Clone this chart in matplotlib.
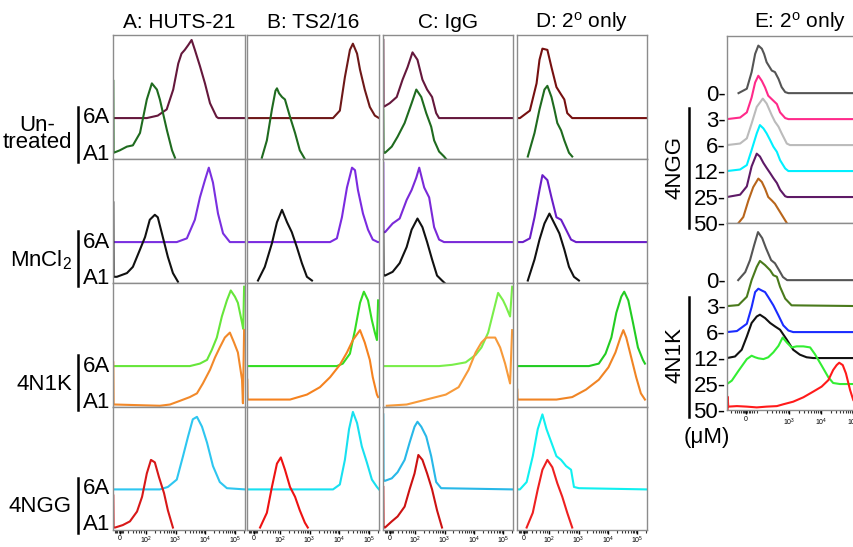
import numpy as np
import matplotlib.pyplot as plt
from matplotlib.lines import Line2D

plt.rcParams['font.family'] = ['Liberation Sans', 'DejaVu Sans']
plt.rcParams['mathtext.fontset'] = 'custom'
plt.rcParams['mathtext.rm'] = 'Liberation Sans'
plt.rcParams['mathtext.it'] = 'Liberation Sans:italic'

# ---------------- data ----------------
# x: fluorescence position in decades (biexponential display), h: height as fraction of panel
col_titles = ["A: HUTS-21", "B: TS2/16", "C: IgG", "D: 2$^{\\mathrm{o}}$ only"]
row_names = ["Un-\ntreated", "MnCl$_2$", "4N1K", "4NGG"]

# row 1: untreated  (A1 = green, 6A = maroon)
untr_A_a1 = ([0.90, 0.91, 1.12, 1.36, 1.56, 1.80, 2.03, 2.20, 2.37, 2.47, 2.71, 2.88, 2.98],
             [0.63, 0.05, 0.07, 0.10, 0.11, 0.21, 0.48, 0.61, 0.56, 0.48, 0.23, 0.07, 0.01])
untr_A_6a = ([0.89, 2.03, 2.40, 2.70, 2.92, 3.09, 3.20, 3.31, 3.43, 3.54, 3.65, 3.82, 3.99, 4.16, 4.38, 4.44, 5.34],
             [0, 0, 0.02, 0.07, 0.23, 0.44, 0.52, 0.55, 0.59, 0.63, 0.55, 0.42, 0.28, 0.12, 0.01, 0, 0])
untr_B_a1 = ([1.39, 1.56, 1.73, 1.85, 1.90, 1.97, 2.07, 2.17, 2.34, 2.51, 2.67, 2.84],
             [0.01, 0.15, 0.40, 0.55, 0.57, 0.53, 0.50, 0.48, 0.34, 0.21, 0.07, 0.0])
untr_B_6a = ([0.89, 3.79, 4.02, 4.19, 4.36, 4.46, 4.60, 4.70, 4.86, 5.03, 5.20, 5.34],
             [0, 0, 0.06, 0.33, 0.55, 0.60, 0.52, 0.39, 0.23, 0.09, 0.02, 0])
untr_C_a1 = ([0.90, 0.91, 0.96, 1.19, 1.39, 1.63, 1.87, 2.03, 2.20, 2.37, 2.54, 2.64, 2.81, 2.98, 3.05],
             [0.40, 0.05, 0.05, 0.10, 0.18, 0.29, 0.45, 0.56, 0.50, 0.37, 0.26, 0.15, 0.06, 0.02, 0])
untr_C_6a = ([0.90, 0.91, 1.12, 1.36, 1.56, 1.73, 1.90, 2.07, 2.24, 2.40, 2.57, 2.71, 2.81, 5.34],
             [0.63, 0.09, 0.12, 0.17, 0.31, 0.41, 0.53, 0.47, 0.31, 0.23, 0.17, 0.04, 0, 0])
untr_D_a1 = ([1.26, 1.49, 1.66, 1.83, 1.93, 2.07, 2.17, 2.27, 2.40, 2.51, 2.67, 2.78],
             [0.02, 0.21, 0.40, 0.56, 0.59, 0.50, 0.40, 0.29, 0.23, 0.15, 0.05, 0.02])
untr_D_6a = ([0.89, 0.99, 1.33, 1.56, 1.66, 1.76, 1.93, 2.07, 2.24, 2.40, 2.51, 2.61, 2.78, 5.34],
             [0, 0, 0.06, 0.28, 0.47, 0.56, 0.55, 0.41, 0.25, 0.19, 0.15, 0.04, 0, 0])

# row 2: MnCl2  (A1 = black, 6A = purple)
mn_A_a1 = ([0.90, 0.91, 1.02, 1.36, 1.56, 1.80, 1.97, 2.13, 2.30, 2.40, 2.57, 2.74, 2.91, 3.08],
           [0.65, 0.05, 0.05, 0.08, 0.13, 0.27, 0.37, 0.51, 0.55, 0.53, 0.37, 0.21, 0.08, 0.01])
mn_A_6a = ([0.89, 3.04, 3.38, 3.65, 3.82, 3.99, 4.12, 4.26, 4.43, 4.60, 4.83, 5.34],
           [0, 0, 0.03, 0.18, 0.36, 0.50, 0.60, 0.48, 0.23, 0.07, 0, 0])
mn_B_a1 = ([1.26, 1.49, 1.73, 1.90, 2.07, 2.24, 2.40, 2.57, 2.74, 2.91, 3.08],
           [0.02, 0.13, 0.32, 0.49, 0.59, 0.49, 0.41, 0.29, 0.16, 0.05, 0.02])
mn_B_6a = ([0.89, 3.69, 3.92, 4.09, 4.26, 4.43, 4.53, 4.63, 4.80, 4.97, 5.13, 5.30, 5.34],
           [0, 0, 0.03, 0.20, 0.44, 0.60, 0.58, 0.42, 0.23, 0.10, 0.02, 0, 0])
mn_C_a1 = ([0.90, 0.91, 0.96, 1.22, 1.46, 1.70, 1.87, 2.07, 2.24, 2.40, 2.57, 2.74, 2.91, 3.00],
           [0.41, 0.06, 0.06, 0.09, 0.16, 0.29, 0.43, 0.52, 0.45, 0.33, 0.19, 0.06, 0.02, 0])
mn_C_6a = ([0.90, 0.91, 0.96, 1.22, 1.46, 1.70, 1.87, 2.03, 2.13, 2.30, 2.47, 2.64, 2.81, 2.98, 5.34],
           [0.64, 0.08, 0.08, 0.15, 0.19, 0.34, 0.42, 0.52, 0.60, 0.44, 0.36, 0.12, 0.02, 0, 0])
mn_D_a1 = ([1.26, 1.49, 1.66, 1.83, 2.00, 2.17, 2.34, 2.51, 2.67, 2.84, 3.01],
           [0.02, 0.19, 0.35, 0.48, 0.56, 0.48, 0.40, 0.27, 0.13, 0.05, 0.02])
mn_D_6a = ([0.89, 1.09, 1.33, 1.49, 1.66, 1.76, 1.93, 2.07, 2.24, 2.40, 2.57, 2.74, 2.91, 5.34],
           [0, 0, 0.03, 0.20, 0.42, 0.54, 0.50, 0.36, 0.20, 0.18, 0.10, 0.02, 0, 0])

# row 3: 4N1K  (A1 = orange, 6A = green)
n1k_A_a1 = ([0.90, 0.91, 0.96, 2.47, 2.81, 3.15, 3.48, 3.72, 3.92, 4.16, 4.33, 4.49, 4.66, 4.83, 4.97, 5.10, 5.24, 5.27, 5.31],
            [0.36, 0.02, 0.02, 0.01, 0.02, 0.05, 0.08, 0.11, 0.19, 0.30, 0.40, 0.48, 0.56, 0.60, 0.52, 0.44, 0.22, 0.03, 0.62])
n1k_A_6a = ([0.89, 3.48, 3.82, 4.06, 4.22, 4.39, 4.56, 4.73, 4.86, 5.00, 5.10, 5.24, 5.28, 5.31],
            [0, 0, 0.02, 0.05, 0.13, 0.23, 0.40, 0.53, 0.61, 0.56, 0.51, 0.35, 0.30, 0.64])
n1k_B_a1 = ([0.90, 0.91, 0.99, 2.34, 2.91, 3.35, 3.69, 4.02, 4.26, 4.46, 4.70, 4.86, 5.03, 5.13, 5.27, 5.31],
            [0.22, 0.06, 0.06, 0.06, 0.10, 0.16, 0.24, 0.34, 0.44, 0.54, 0.62, 0.52, 0.38, 0.24, 0.10, 0.08])
n1k_B_6a = ([0.89, 3.92, 4.12, 4.36, 4.53, 4.70, 4.83, 4.97, 5.10, 5.20, 5.27, 5.31],
            [0, 0, 0.02, 0.10, 0.29, 0.51, 0.60, 0.53, 0.37, 0.27, 0.21, 0.53])
n1k_C_a1 = ([1.02, 1.70, 2.37, 3.04, 3.48, 3.82, 4.06, 4.26, 4.43, 4.73, 4.90, 5.07, 5.24, 5.31],
            [0.01, 0.02, 0.06, 0.10, 0.16, 0.30, 0.44, 0.52, 0.56, 0.56, 0.48, 0.35, 0.19, 0.62])
n1k_C_6a = ([0.89, 2.81, 3.25, 3.72, 4.06, 4.26, 4.49, 4.66, 4.83, 5.00, 5.10, 5.24, 5.31],
            [0, 0, 0.01, 0.03, 0.09, 0.15, 0.27, 0.43, 0.59, 0.53, 0.48, 0.40, 0.64])
n1k_D_a1 = ([0.90, 0.91, 0.99, 2.24, 2.78, 3.25, 3.69, 4.02, 4.26, 4.43, 4.53, 4.63, 4.80, 4.97, 5.13, 5.27],
            [0.14, 0.06, 0.06, 0.06, 0.08, 0.14, 0.22, 0.32, 0.44, 0.56, 0.62, 0.56, 0.40, 0.24, 0.11, 0.06])
n1k_D_6a = ([0.89, 3.35, 3.69, 3.92, 4.12, 4.29, 4.46, 4.56, 4.70, 4.86, 5.03, 5.20, 5.27],
            [0, 0, 0.02, 0.10, 0.23, 0.43, 0.56, 0.60, 0.53, 0.35, 0.15, 0.05, 0.02])

# row 4: 4NGG  (A1 = red, 6A = cyan)
ngg_A_a1 = ([0.90, 0.91, 0.96, 1.22, 1.46, 1.70, 1.87, 2.03, 2.17, 2.30, 2.44, 2.61, 2.74, 2.91],
            [0.28, 0.02, 0.02, 0.04, 0.07, 0.15, 0.27, 0.46, 0.57, 0.55, 0.43, 0.30, 0.16, 0.02])
ngg_A_6a = ([0.89, 2.47, 2.74, 3.04, 3.25, 3.42, 3.58, 3.72, 3.89, 4.06, 4.26, 4.49, 4.73, 5.34],
            [0, 0, 0.02, 0.08, 0.27, 0.43, 0.57, 0.59, 0.51, 0.38, 0.19, 0.06, 0.01, 0])
ngg_B_a1 = ([1.33, 1.56, 1.73, 1.90, 2.03, 2.17, 2.34, 2.51, 2.67, 2.84, 2.94],
            [0.02, 0.14, 0.35, 0.54, 0.59, 0.49, 0.35, 0.27, 0.16, 0.06, 0.02])
ngg_B_6a = ([0.89, 3.79, 4.02, 4.19, 4.33, 4.46, 4.60, 4.76, 4.93, 5.10, 5.27, 5.34],
            [0, 0, 0.04, 0.24, 0.49, 0.63, 0.54, 0.35, 0.22, 0.08, 0.02, 0])
ngg_C_a1 = ([0.90, 0.91, 0.96, 1.19, 1.39, 1.63, 1.80, 1.97, 2.10, 2.24, 2.40, 2.57, 2.74, 2.91],
            [0.35, 0.02, 0.02, 0.07, 0.11, 0.19, 0.33, 0.46, 0.61, 0.57, 0.46, 0.33, 0.16, 0.02])
ngg_C_6a = ([0.90, 0.91, 0.96, 1.19, 1.39, 1.63, 1.80, 1.97, 2.07, 2.20, 2.37, 2.54, 2.71, 2.88, 5.34],
            [0.61, 0.07, 0.07, 0.09, 0.14, 0.24, 0.38, 0.51, 0.55, 0.51, 0.43, 0.27, 0.06, 0.01, 0])
ngg_D_a1 = ([1.22, 1.43, 1.60, 1.76, 1.93, 2.10, 2.27, 2.44, 2.61, 2.78],
            [0.02, 0.14, 0.33, 0.49, 0.57, 0.51, 0.38, 0.27, 0.14, 0.02])
ngg_D_6a = ([0.89, 0.99, 1.22, 1.43, 1.60, 1.76, 1.90, 2.07, 2.24, 2.40, 2.57, 2.74, 2.84, 3.01, 5.34],
            [0, 0, 0.06, 0.27, 0.49, 0.61, 0.49, 0.38, 0.27, 0.24, 0.19, 0.16, 0.02, 0.01, 0])

grid_a1 = [[untr_A_a1, untr_B_a1, untr_C_a1, untr_D_a1],
           [mn_A_a1, mn_B_a1, mn_C_a1, mn_D_a1],
           [n1k_A_a1, n1k_B_a1, n1k_C_a1, n1k_D_a1],
           [ngg_A_a1, ngg_B_a1, ngg_C_a1, ngg_D_a1]]
grid_6a = [[untr_A_6a, untr_B_6a, untr_C_6a, untr_D_6a],
           [mn_A_6a, mn_B_6a, mn_C_6a, mn_D_6a],
           [n1k_A_6a, n1k_B_6a, n1k_C_6a, n1k_D_6a],
           [ngg_A_6a, ngg_B_6a, ngg_C_6a, ngg_D_6a]]

# panel E: 2o only, titration (h in units of one offset step)
e_doses = ["0-", "3-", "6-", "12-", "25-", "50-"]
ngg_0 = ([1.42, 1.68, 1.83, 1.94, 2.04, 2.15, 2.22, 2.30, 2.46, 2.56, 2.67, 2.77, 2.88, 2.98, 5.3],
         [0, 0.17, 0.81, 1.51, 1.83, 1.71, 1.51, 1.19, 0.87, 0.81, 0.55, 0.23, 0.04, 0, 0])
ngg_3 = ([1.06, 1.47, 1.68, 1.83, 1.94, 2.04, 2.15, 2.25, 2.35, 2.51, 2.62, 2.72, 2.88, 2.98, 5.3],
         [0, 0.06, 0.26, 0.83, 1.41, 1.67, 1.47, 1.22, 0.90, 0.71, 0.58, 0.26, 0.04, 0, 0])
ngg_6 = ([1.06, 1.47, 1.68, 1.83, 1.99, 2.18, 2.30, 2.46, 2.56, 2.67, 2.77, 2.93, 3.03, 5.3],
         [0, 0.06, 0.26, 0.83, 1.47, 1.79, 1.60, 1.15, 0.90, 0.71, 0.45, 0.06, 0, 0])
ngg_12 = ([1.06, 1.47, 1.68, 1.83, 1.99, 2.09, 2.20, 2.30, 2.41, 2.51, 2.62, 2.72, 2.88, 2.98, 5.3],
          [0, 0.06, 0.23, 0.81, 1.45, 1.77, 1.64, 1.45, 1.19, 0.94, 0.74, 0.42, 0.10, 0, 0])
ngg_25 = ([1.06, 1.47, 1.68, 1.83, 1.99, 2.09, 2.20, 2.30, 2.41, 2.51, 2.62, 2.72, 2.88, 2.95, 5.3],
          [0, 0.09, 0.41, 1.18, 1.67, 1.56, 1.31, 1.12, 0.92, 0.73, 0.54, 0.28, 0.03, 0, 0])
ngg_50 = ([1.42, 1.57, 1.73, 1.88, 2.04, 2.15, 2.25, 2.35, 2.46, 2.56, 2.72, 2.88, 2.93],
          [0, 0.23, 0.87, 1.38, 1.71, 1.58, 1.32, 1.00, 0.87, 0.74, 0.42, 0.10, 0])
n1k_0 = ([1.41, 1.63, 1.78, 1.91, 2.03, 2.16, 2.28, 2.44, 2.56, 2.69, 2.81, 2.94, 5.3],
         [0.0, 0.31, 0.77, 1.35, 1.85, 1.62, 1.23, 0.77, 0.65, 0.38, 0.12, 0, 0])
n1k_3 = ([1.06, 1.42, 1.68, 1.83, 1.99, 2.09, 2.25, 2.41, 2.51, 2.62, 2.72, 2.88, 3.08, 5.3],
         [0, 0.04, 0.36, 1.00, 1.51, 1.74, 1.58, 1.38, 1.19, 1.13, 0.74, 0.29, 0.03, 0])
n1k_6 = ([1.06, 1.37, 1.68, 1.83, 1.94, 2.04, 2.15, 2.25, 2.35, 2.51, 2.67, 2.82, 2.98, 3.13, 5.3],
         [0, 0.04, 0.32, 0.96, 1.54, 1.67, 1.60, 1.54, 1.35, 1.03, 0.64, 0.26, 0.06, 0, 0])
n1k_12 = ([1.06, 1.31, 1.52, 1.68, 1.83, 1.99, 2.09, 2.25, 2.41, 2.56, 2.72, 2.93, 3.13, 3.34, 3.55, 3.76, 5.3],
          [0, 0.06, 0.32, 0.83, 1.35, 1.60, 1.67, 1.54, 1.35, 1.22, 1.09, 0.71, 0.32, 0.13, 0.03, 0, 0])
n1k_25 = ([1.06, 1.21, 1.42, 1.68, 1.83, 1.94, 2.04, 2.20, 2.35, 2.51, 2.67, 2.80, 2.93, 3.08, 3.24, 3.45,
           3.66, 3.81, 4.02, 4.23, 4.38, 4.59, 5.3],
          [0, 0.13, 0.51, 0.96, 1.09, 1.03, 0.99, 0.96, 1.03, 1.22, 1.47, 1.79, 1.60, 1.41, 1.45, 1.45,
           1.41, 1.15, 0.71, 0.26, 0.04, 0, 0])
n1k_50 = ([1.08, 1.08, 1.10, 1.37, 1.68, 1.99, 2.30, 2.62, 2.82, 3.13, 3.45, 3.76, 4.02, 4.23, 4.38, 4.49,
           4.57, 4.68, 4.78, 4.91, 5.01, 5.2],
          [0, 0.51, 0.13, 0.15, 0.13, 0.10, 0.13, 0.15, 0.22, 0.32, 0.49, 0.71, 0.90, 1.15, 1.54, 1.73,
           1.82, 1.73, 1.41, 0.77, 0.38, 0.05])

ngg_curves = [ngg_0, ngg_3, ngg_6, ngg_12, ngg_25, ngg_50]
n1k_curves = [n1k_0, n1k_3, n1k_6, n1k_12, n1k_25, n1k_50]

# ---------------- styles ----------------
a1_colors = [["#1f6b1f"] * 4,
             ["#111111"] * 4,
             ["#f2892a", "#f5821f", "#f79a3a", "#f08424"],
             ["#d81818", "#ee1212", "#cc1212", "#ee2020"]]
sixa_colors = [["#65183c", "#6e1818", "#65183c", "#761010"],
               ["#7a30e0", "#7b2be0", "#7a2ad8", "#6a1ec8"],
               ["#66e63a", "#33dd22", "#7aee4a", "#22cc22"],
               ["#2ec6f0", "#18e0f0", "#28b8e8", "#10f0f0"]]
ngg_colors = ["#555555", "#ff2a8a", "#bbbbbb", "#00f0ff", "#5e1a66", "#b8651b"]
n1k_colors = ["#555555", "#4a7a1c", "#1a2cff", "#111111", "#33ee33", "#ff1a1a"]

W, H = 854, 547
fig = plt.figure(figsize=(W / 100, H / 100), dpi=100)


def px_axes(x0, y0, x1, y1):
    return fig.add_axes([x0 / W, 1 - y1 / H, (x1 - x0) / W, (y1 - y0) / H])


def ftext(x, y, s, **kw):
    fig.text(x / W, 1 - y / H, s, **kw)


def vbar(x, y0, y1):
    fig.add_artist(Line2D([x / W, x / W], [1 - y0 / H, 1 - y1 / H], color="black", lw=1.8))


spine_col = "#8c8c8c"
col_x = [(113, 245), (247, 379), (383, 513), (517, 647)]
row_y = [(35, 159), (159, 283), (283, 407), (407, 530)]
off6a = 0.33
lw = 1.5

main_major = [1.12, 2, 3, 4, 5]
main_labels = ["0", "$10^{2}$", "$10^{3}$", "$10^{4}$", "$10^{5}$"]
main_minor = [0.96, 1.0, 1.04, 1.08, 1.16, 1.20, 1.24, 1.40, 1.55, 1.67, 1.77, 1.85, 1.92] + \
             [d + np.log10(k) for d in (2, 3, 4) for k in range(2, 10)] + [5.3]

for r in range(4):
    for c in range(4):
        x0, x1 = col_x[c]
        y0, y1 = row_y[r]
        ax = px_axes(x0, y0, x1, y1)
        xa, ya = grid_a1[r][c]
        xb, yb = grid_6a[r][c]
        ax.plot(xb, np.array(yb) + off6a, color=sixa_colors[r][c], lw=lw, solid_joinstyle="round")
        ax.plot(xa, ya, color=a1_colors[r][c], lw=lw, solid_joinstyle="round")
        ax.set_xlim(0.89, 5.34)
        ax.set_ylim(0, 1)
        ax.set_yticks([])
        for s in ax.spines.values():
            s.set_color(spine_col)
            s.set_linewidth(1.0)
        if r == 3:
            ax.set_xticks(main_major)
            ax.set_xticklabels(main_labels, fontsize=5)
            ax.set_xticks(main_minor, minor=True)
            ax.tick_params(axis="x", which="major", length=3, width=1.0, pad=0.5, color="black")
            ax.tick_params(axis="x", which="minor", length=2, width=0.8, color="#333333")
        else:
            ax.set_xticks([])
        if r == 0:
            ax.set_title(col_titles[c], fontsize=15, pad=5)

# row labels on the left
for r in range(4):
    yb = row_y[r][1]
    vbar(78, yb - 52, yb + 3)
    ftext(83, yb - 41, "6A", fontsize=16, va="center", ha="left")
    ftext(83, yb - 5, "A1", fontsize=16, va="center", ha="left")
    if r == 0:
        ftext(72, yb - 25, row_names[r], fontsize=16, va="center", ha="right",
              multialignment="center", linespacing=0.75)
    else:
        ftext(72, yb - 23, row_names[r], fontsize=16, va="center", ha="right")

# ---------------- panel E ----------------
e_major = [1.66, 3, 4, 5]
e_labels = ["0", "$10^{3}$", "$10^{4}$", "$10^{5}$"]
e_minor = [1.20, 1.30, 1.38, 1.45, 1.50, 1.55, 1.58, 1.62, 1.70, 1.74, 1.78, 1.85, 1.92, 2.0] + \
          [d + np.log10(k) for d in (2, 3, 4) for k in range(2, 10)]
step = 1.0
for i, (curves, cols, (y0, y1)) in enumerate([(ngg_curves, ngg_colors, (36, 223)),
                                                (n1k_curves, n1k_colors, (223, 410))]):
    ax = px_axes(727, y0, 860, y1)
    n = len(curves)
    for k in range(n):
        xs, hs = curves[k]
        base = (n - 1 - k) * step
        ax.plot(xs, np.array(hs) + base, color=cols[k], lw=lw, solid_joinstyle="round")
    ax.set_xlim(1.06, 5.22)
    ax.set_ylim(0, 7.2)
    ax.set_yticks([(n - 1 - k) * step for k in range(n)])
    ax.set_yticklabels(e_doses, fontsize=16)
    ax.tick_params(axis="y", length=0, pad=1)
    for s in ax.spines.values():
        s.set_color(spine_col)
        s.set_linewidth(1.0)
    if i == 1:
        ax.set_xticks(e_major)
        ax.set_xticklabels(e_labels, fontsize=5)
        ax.set_xticks(e_minor, minor=True)
        ax.tick_params(axis="x", which="major", length=3, width=1.0, pad=1.5, color="black")
        ax.tick_params(axis="x", which="minor", length=2, width=0.8, color="#333333")
    else:
        ax.set_xticks([])

ftext(800, 22, "E: 2$^{\\mathrm{o}}$ only", fontsize=15, ha="center", va="center")
vbar(689, 108, 228)
ftext(675, 167, "4NGG", fontsize=16, rotation=90, ha="center", va="center")
vbar(689, 297, 417)
ftext(675, 355, "4N1K", fontsize=16, rotation=90, ha="center", va="center")
ftext(707, 438, "(\u03bcM)", fontsize=16, ha="center", va="center")

fig.savefig("out.png", dpi=100)
